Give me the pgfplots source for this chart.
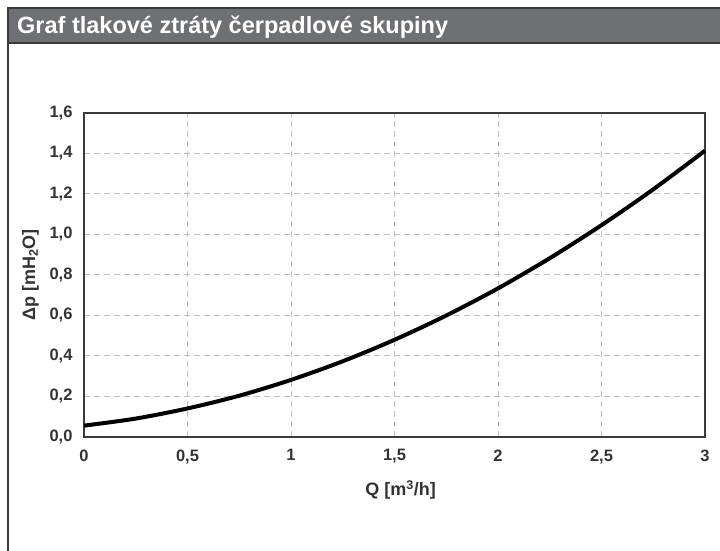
\documentclass[border=0pt]{standalone}
\usepackage{pgfplots}
\pgfplotsset{compat=1.18}
\usepackage{fontspec}
\setmainfont{Liberation Sans}
\definecolor{barg}{HTML}{6F7073}
\definecolor{frameg}{HTML}{3A3A3A}
\definecolor{labg}{HTML}{333333}
\definecolor{gridg}{HTML}{BFBFBF}
\begin{document}
\begin{tikzpicture}[x=1pt,y=1pt]
\path[use as bounding box] (0,0) rectangle (720,551);
\begin{scope}
\clip (0,0) rectangle (720,551);
\draw[frameg, line width=1.5pt] (8,-20) rectangle (740,543);
\draw[frameg, line width=1.5pt, fill=barg] (8,508) rectangle (740,543);
\end{scope}
\node[anchor=base west, text=white, font=\fontsize{23.5}{28}\selectfont\bfseries, inner sep=0pt] at (17,517) {Graf tlakové ztráty čerpadlové skupiny};
\begin{axis}[
  at={(84pt,114pt)}, anchor=south west,
  scale only axis, width=621pt, height=324pt,
  xmin=0, xmax=3, ymin=0, ymax=1.6,
  xtick={0,0.5,1,1.5,2,2.5,3},
  xticklabels={0,{0,5},1,{1,5},2,{2,5},3},
  ytick={0,0.2,0.4,0.6,0.8,1,1.2,1.4,1.6},
  yticklabels={{0,0},{0,2},{0,4},{0,6},{0,8},{1,0},{1,2},{1,4},{1,6}},
  major tick length=0pt,
  tick label style={font=\fontsize{16.5}{19}\selectfont\bfseries, text=labg},
  yticklabel style={xshift=-8pt},
  xticklabel style={yshift=-9pt},
  grid=major,
  grid style={gridg, line width=1pt, dash pattern=on 6pt off 4pt},
  axis line style={frameg, line width=1.5pt},
  xlabel={Q [m\textsuperscript{3}/h]},
  ylabel={Δp [mH\textsubscript{2}O]},
  label style={font=\fontsize{18}{21}\selectfont\bfseries, text=labg},
  xlabel style={at={(axis description cs:0.5097,-0.182)}, anchor=base},
  ylabel style={at={(axis description cs:-0.0789,0.5)}, anchor=base},
  clip=false,
]
\addplot[black, line width=4pt, smooth] coordinates {
(0,0.056) (0.25,0.091) (0.5,0.141) (0.75,0.204) (1,0.282) (1.25,0.374)
(1.5,0.480) (1.75,0.600) (2,0.734) (2.25,0.883) (2.5,1.046) (2.75,1.223) (3,1.414)
};
\end{axis}
\end{tikzpicture}
\end{document}
